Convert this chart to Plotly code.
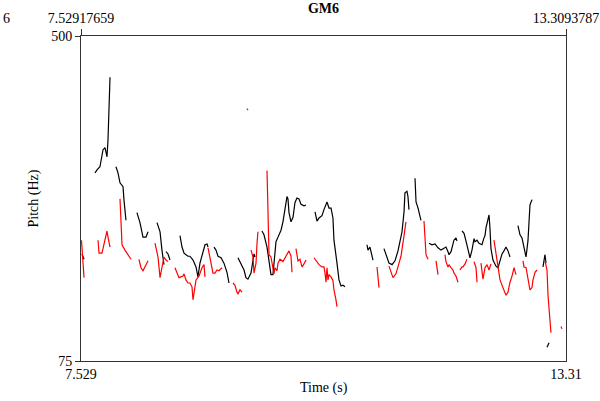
import plotly.graph_objects as go

t_start = 7.52917659
t_end = 13.3093787
y_min, y_max = 75, 500

x_tick_top = ["7.52917659", "13.3093787"]
x_tick_bottom = ["7.529", "13.31"]
y_ticks = [75, 500]

# black pitch contour segments (time s, pitch Hz)
black_times = [
    [7.541, 7.565],
    [7.696, 7.720, 7.755, 7.791, 7.815, 7.839, 7.851, 7.863, 7.875],
    [7.946, 7.970, 7.994, 8.030, 8.041, 8.065],
    [8.196, 8.232, 8.268, 8.304, 8.328],
    [8.435, 8.471, 8.494, 8.518],
    [8.542, 8.566, 8.590],
    [8.709, 8.733, 8.757, 8.804, 8.828, 8.864, 8.900, 8.923, 8.947, 8.983, 9.007, 9.031, 9.043],
    [9.114, 9.138, 9.162, 9.198, 9.233, 9.269, 9.293],
    [9.400, 9.436, 9.472, 9.495, 9.519, 9.555, 9.579, 9.591, 9.603],
    [9.686, 9.710, 9.746, 9.770, 9.793, 9.817, 9.829, 9.853, 9.877, 9.913, 9.936, 9.960,
     9.984, 9.996, 10.008, 10.032, 10.056, 10.079, 10.103, 10.127, 10.151, 10.187, 10.211],
    [10.318, 10.342, 10.366, 10.401, 10.425, 10.461, 10.485, 10.509, 10.532, 10.544,
     10.580, 10.604, 10.628, 10.652, 10.675],
    [10.938, 10.949, 10.973, 11.009],
    [11.140, 11.176, 11.200, 11.236, 11.271, 11.307, 11.331, 11.355, 11.379, 11.390,
     11.414, 11.426, 11.438],
    [11.510, 11.522, 11.546, 11.581],
    [11.677, 11.712, 11.748, 11.784, 11.820, 11.855, 11.879, 11.903, 11.915, 11.939,
     11.963, 11.974, 11.998, 12.010],
    [12.070, 12.094, 12.117, 12.141, 12.165, 12.189, 12.213, 12.225, 12.249, 12.272,
     12.308, 12.332, 12.344, 12.356, 12.380, 12.392, 12.403, 12.415, 12.439, 12.475,
     12.499, 12.523, 12.547, 12.570, 12.594, 12.618, 12.642],
    [12.737, 12.761, 12.785, 12.809, 12.833, 12.856, 12.868, 12.880, 12.904],
    [13.035, 13.047, 13.059, 13.071],
    [13.083, 13.107],
]
black_pitch = [
    [215, 208],
    [321, 325, 329, 351, 354, 342, 364, 416, 446],
    [329, 321, 308, 303, 286, 259],
    [269, 256, 237, 237, 244],
    [256, 244, 220, 201],
    [218, 215, 207],
    [239, 224, 216, 212, 212, 207, 198, 185, 203, 220, 227, 228, 224],
    [224, 220, 212, 210, 203, 191, 177],
    [210, 201, 194, 184, 182, 190, 205, 215, 211],
    [245, 240, 224, 203, 188, 188, 207, 231, 237, 246, 257, 275,
     290, 287, 269, 257, 263, 282, 288, 287, 280, 278, 279],
    [270, 258, 262, 265, 273, 283, 275, 275, 262, 233,
     203, 181, 173, 174, 172],
    [227, 220, 224, 207],
    [222, 210, 203, 201, 206, 219, 231, 244, 270, 295,
     297, 290, 273],
    [314, 283, 275, 259],
    [229, 227, 228, 223, 220, 222, 224, 218, 214, 218,
     227, 233, 236, 232],
    [245, 242, 232, 222, 210, 220, 235, 231, 233, 229,
     227, 236, 239, 249, 263, 266, 249, 222, 207, 199,
     197, 205, 215, 219, 224, 219, 211],
    [252, 240, 236, 224, 211, 232, 263, 279, 286],
    [198, 207, 214, 203],
    [93, 99],
]

# red pitch contour segments (time s, pitch Hz)
red_times = [
    [7.535, 7.541, 7.553, 7.565],
    [7.732, 7.744, 7.779, 7.803, 7.839, 7.851, 7.875],
    [7.994, 8.006, 8.018, 8.053, 8.077, 8.101, 8.125],
    [8.220, 8.244, 8.268, 8.304, 8.328],
    [8.411, 8.435, 8.447, 8.471, 8.494, 8.518, 8.542, 8.566],
    [8.649, 8.673, 8.697, 8.721, 8.745, 8.757, 8.780, 8.804, 8.828, 8.852, 8.864,
     8.900, 8.935, 8.971, 8.995, 9.007],
    [9.043, 9.066, 9.102, 9.126, 9.150, 9.174, 9.209],
    [9.341, 9.364, 9.388, 9.400, 9.424, 9.448],
    [9.507, 9.519],
    [9.555, 9.579, 9.591, 9.615, 9.627, 9.638],
    [9.746, 9.758, 9.770, 9.793, 9.817, 9.829, 9.841, 9.865, 9.877, 9.901, 9.936,
     9.960, 9.984, 10.008, 10.032, 10.044],
    [10.091, 10.115, 10.139, 10.163, 10.187, 10.211],
    [10.306, 10.342, 10.366, 10.401, 10.425, 10.437, 10.449, 10.461, 10.473, 10.485,
     10.509, 10.532, 10.544, 10.568, 10.580],
    [11.057, 11.069, 11.081],
    [11.200, 11.236, 11.247, 11.283, 11.307, 11.343, 11.379, 11.402],
    [11.617, 11.629, 11.641, 11.665],
    [11.760, 11.772, 11.784],
    [11.867, 11.879, 11.903, 11.915, 11.939, 11.963, 11.974, 11.998, 12.022],
    [12.046, 12.070, 12.082, 12.106, 12.129],
    [12.213, 12.237, 12.249],
    [12.296, 12.308, 12.320, 12.344, 12.368, 12.392, 12.415],
    [12.451, 12.475, 12.499, 12.523, 12.558, 12.594, 12.618, 12.642, 12.666, 12.690, 12.713],
    [12.797, 12.809, 12.833, 12.856, 12.880, 12.904, 12.916, 12.940, 12.963],
    [13.059, 13.083, 13.095, 13.118, 13.130],
    [13.250, 13.262],
]
red_pitch = [
    [233, 223, 205, 184],
    [233, 216, 216, 227, 245, 237, 224],
    [287, 246, 227, 220, 216, 211, 208],
    [208, 197, 193, 201, 206],
    [229, 215, 211, 184, 199, 211, 207, 205],
    [197, 189, 184, 185, 186, 189, 181, 177, 177, 172, 155,
     181, 186, 197, 201, 185],
    [223, 210, 190, 190, 194, 193, 197],
    [177, 174, 165, 163, 168, 165],
    [405, 403],
    [220, 211, 190, 203, 229, 244],
    [324, 263, 214, 211, 197, 189, 197, 193, 203, 208, 205,
     210, 216, 219, 212, 191],
    [222, 206, 208, 198, 202, 207],
    [210, 205, 201, 198, 198, 190, 178, 197, 181, 188,
     185, 180, 168, 155, 146],
    [198, 186, 171],
    [199, 188, 184, 189, 198, 212, 239, 257],
    [258, 229, 214, 208],
    [206, 198, 188],
    [214, 205, 198, 201, 197, 194, 190, 186, 178],
    [194, 198, 198, 202, 208],
    [205, 197, 178],
    [203, 194, 182, 197, 201, 194, 202],
    [233, 214, 199, 181, 171, 161, 165, 178, 186, 197, 188],
    [206, 198, 197, 184, 168, 171, 181, 191, 194],
    [206, 194, 161, 135, 112],
    [120, 117],
]


def join_segments(times, values):
    xs, ys = [], []
    for ts, vs in zip(times, values):
        xs.extend(ts + [None])
        ys.extend(vs + [None])
    return xs, ys


FONT = "Liberation Serif, Times New Roman, serif"
AXIS_COLOR = "#333333"

fig = go.Figure()
bx, by = join_segments(black_times, black_pitch)
rx, ry = join_segments(red_times, red_pitch)
fig.add_trace(go.Scatter(x=bx, y=by, mode="lines", connectgaps=False,
                         line=dict(color="black", width=1.2), showlegend=False,
                         hoverinfo="skip"))
fig.add_trace(go.Scatter(x=rx, y=ry, mode="lines", connectgaps=False,
                         line=dict(color="#ff0000", width=1.2), showlegend=False,
                         hoverinfo="skip"))
# invisible trace to activate the top axis
fig.add_trace(go.Scatter(x=[t_start, t_end], y=[y_min, y_min], xaxis="x2",
                         mode="lines", line=dict(width=0), opacity=0,
                         showlegend=False, hoverinfo="skip"))

fig.update_layout(
    width=600, height=401,
    margin=dict(l=81, r=34, t=36, b=40, autoexpand=False),
    paper_bgcolor="white", plot_bgcolor="white",
    font=dict(family=FONT, size=14, color="black"),
    title=dict(text="<b>GM6</b>", x=(81 + 566) / 2 / 600, xanchor="center",
               y=1 - 8 / 401, yanchor="middle",
               font=dict(family=FONT, size=14, color="black")),
    xaxis=dict(range=[t_start, t_end], tickvals=[t_start, t_end],
               ticktext=x_tick_bottom, ticks="", showgrid=False, zeroline=False,
               showline=True, linecolor=AXIS_COLOR, linewidth=1, mirror=True,
               automargin=False, tickfont=dict(family=FONT, size=14)),
    xaxis2=dict(range=[t_start, t_end], overlaying="x", side="top",
                tickvals=[t_start, t_end], ticktext=x_tick_top,
                ticks="outside", ticklen=6, tickcolor=AXIS_COLOR, tickwidth=1,
                showgrid=False, zeroline=False, showline=False, automargin=False,
                tickfont=dict(family=FONT, size=14)),
    yaxis=dict(range=[y_min, y_max], tickvals=y_ticks,
               ticktext=[str(v) for v in y_ticks],
               ticks="outside", ticklen=5, tickcolor=AXIS_COLOR, tickwidth=1,
               showgrid=False, zeroline=False, showline=True,
               linecolor=AXIS_COLOR, linewidth=1, mirror=True, automargin=False,
               tickfont=dict(family=FONT, size=14)),
    annotations=[
        dict(text="Pitch (Hz)", xref="paper", yref="paper",
             x=(33 - 81) / 485, y=0.5, xanchor="center", yanchor="middle",
             textangle=-90, showarrow=False, font=dict(family=FONT, size=14)),
        dict(text="Time (s)", xref="paper", yref="paper",
             x=0.5, y=-(388 - 361) / 325, xanchor="center", yanchor="middle",
             showarrow=False, font=dict(family=FONT, size=14)),
        dict(text="6", xref="paper", yref="paper",
             x=(1 - 81) / 485, y=1 + (36 - 18) / 325, xanchor="left",
             yanchor="middle", showarrow=False, font=dict(family=FONT, size=14)),
    ],
)

fig.write_html("out.html")
